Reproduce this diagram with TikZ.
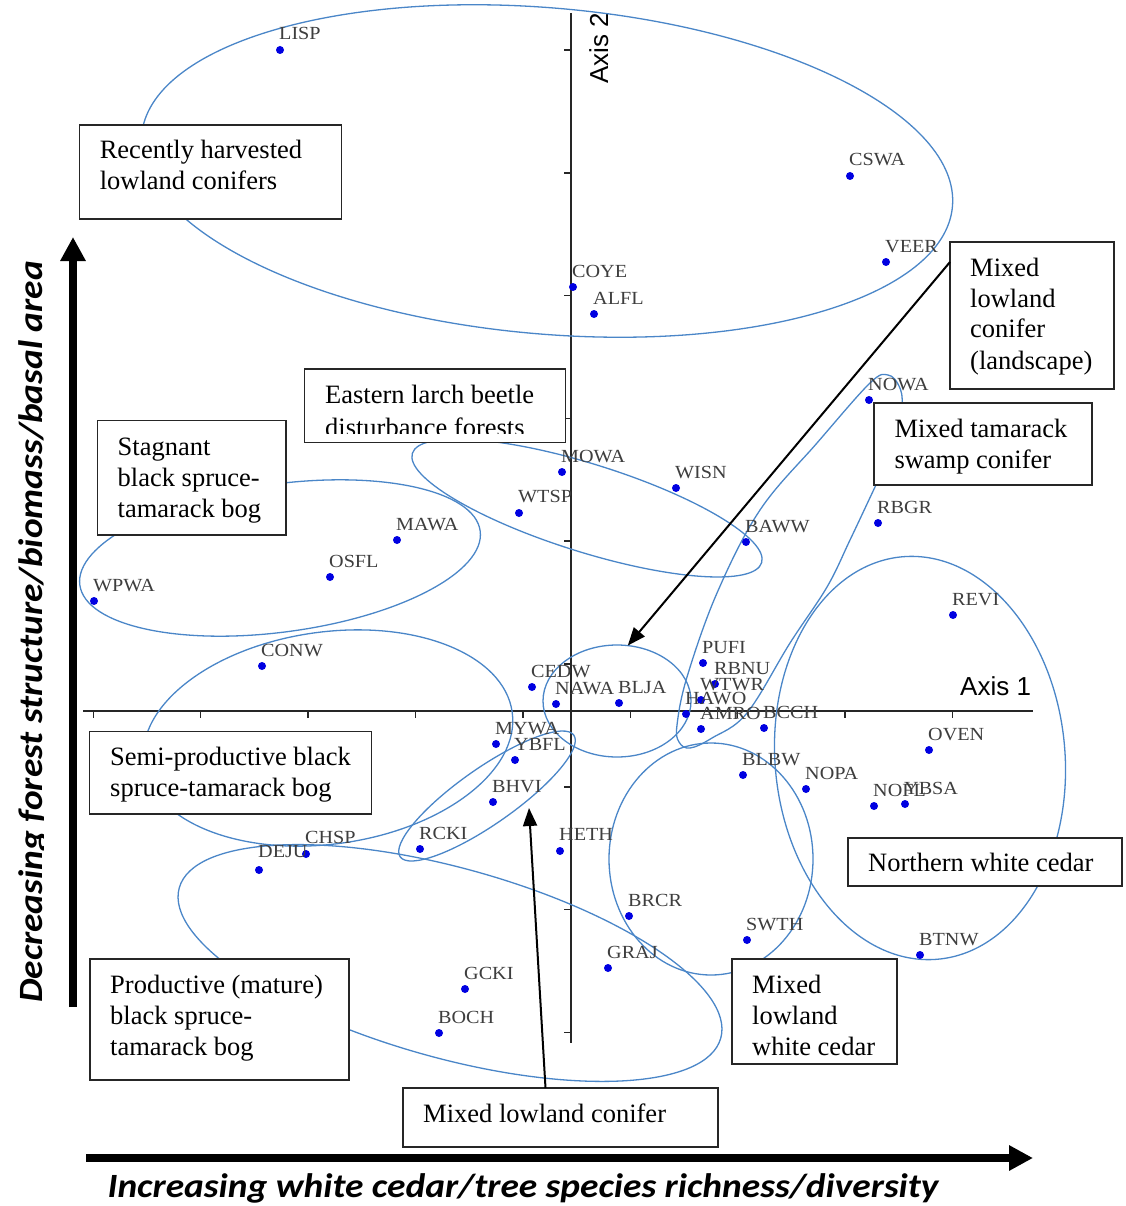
\documentclass[tikz,border=0pt]{standalone}
\usepackage{fontspec}
\setmainfont{Liberation Serif}
\newfontfamily\labfont{Liberation Serif}
\newfontfamily\axfont{Carlito}
\newfontfamily\arialf{Liberation Sans}
\usetikzlibrary{arrows.meta,shapes.geometric}
\definecolor{ellc}{RGB}{74,134,200}
\definecolor{dotc}{RGB}{0,0,225}
\definecolor{labc}{RGB}{62,62,62}
\begin{document}
\begin{tikzpicture}[x=1pt,y=-1pt,
  ell/.style={draw=ellc, line width=1.3pt, ellipse, inner sep=0pt, outer sep=0pt},
  ellp/.style={draw=ellc, line width=1.3pt},
  boxn/.style={draw=black!85, line width=1.2pt, fill=white, inner sep=0pt, outer sep=0pt, anchor=north west},
  btext/.style={font=\fontsize{26.5}{31}\selectfont, inner sep=0pt, anchor=base west},
  lab/.style={font=\labfont\fontsize{18.5}{20}\selectfont, text=labc, inner sep=0pt, anchor=base west},
  axisl/.style={line width=1.8pt, draw=black!85},
  pointer/.style={line width=2pt, -{Triangle[length=18pt,width=14pt]}},
  bigarrow/.style={line width=7.5pt, -{Triangle[length=24pt,width=24pt]}},
  axtext/.style={font=\axfont\bfseries\itshape\fontsize{34}{40}\selectfont, inner sep=0pt},
  axname/.style={font=\arialf\fontsize{26}{30}\selectfont, inner sep=0pt}
]
\useasboundingbox (0,0) rectangle (1125,1206);
\fill[white] (0,0) rectangle (1125,1206);

% axes
\draw[axisl] (83,711) -- (1033,711);
\draw[axisl] (571,13) -- (571,1043);
\foreach \k in {0,...,8} {\draw[axisl, line width=1.5pt] ({93.3+107.4*\k},711) -- ({93.3+107.4*\k},718);}
\foreach \k in {0,...,8} {\draw[axisl, line width=1.5pt] (571,{50+122.8*\k}) -- (564,{50+122.8*\k});}
\node[axname, rotate=90, anchor=base] (ax2) at (608,48) {Axis 2};
\node[axname, anchor=base west] (ax1) at (960,695) {Axis 1};

% ellipses
\node[ell, minimum width=814pt, minimum height=326pt, rotate=-5] (e1) at (547,171) {};
\node[ell, minimum width=404pt, minimum height=148pt, rotate=7.7] (e2) at (280,558) {};
\node[ell, minimum width=366pt, minimum height=88pt, rotate=-17.4] (e3) at (587,508) {};
\node[ell, minimum width=372pt, minimum height=212pt, rotate=8] (e4) at (328,738) {};
\node[ell, minimum width=562pt, minimum height=190pt, rotate=-15.5] (e5) at (450,963) {};
\node[ell, minimum width=212pt, minimum height=56pt, rotate=35] (e6) at (487,796) {};
\node[ell, minimum width=148pt, minimum height=112pt] (e7) at (617,701) {};
\node[ell, minimum width=290pt, minimum height=404pt, rotate=5] (e9) at (920,758) {};
\node[ell, minimum width=204pt, minimum height=232pt] (e10) at (711,859) {};
\draw[ellp] plot[smooth cycle, tension=0.6] coordinates {(870,383) (888,375) (899,386) (902,405) (895,445) (875,487) (850,540) (827,587) (790,643) (747,713) (712,738) (690,748) (679,742) (677,725) (687,677) (717,593) (760,510) (817,443)};

% points
\foreach \n/\x/\y/\d in {LISP/280/50/10, CSWA/850/176/10, VEER/886/262/10, COYE/573/287/10, ALFL/594/314/10,
  NOWA/869/400/10, MOWA/562/472/10, WISN/676/488/10, WTSP/519/513/11, BAWW/746/542/10, RBGR/878/523/10,
  MAWA/397/540/10, OSFL/330/577/10, WPWA/94/601/10, REVI/953/615/10, CONW/262/666/10, PUFI/703/663/10,
  RBNU/715/684/10, WTWR/701/700/10, HAWO/686/714/10, AMRO/701/729/10, BCCH/764/728/10, CEDW/532/687/10,
  NAWA/556/704/10, BLJA/619/703/10, MYWA/496/744/10, YBFL/515/760/10, BHVI/493/802/10, RCKI/420/849/10,
  HETH/560/851/11, CHSP/306/854/11, DEJU/259/870/13, BLBW/743/775/10, NOPA/806/789/10, OVEN/929/750/10,
  NOFL/874/806/10, YBSA/905/804/10, BRCR/629/916/10, SWTH/747/940/10, GRAJ/608/968/10, BTNW/920/955/10,
  GCKI/465/989/10, BOCH/439/1033/10} {
  \fill[dotc] (\x,\y) circle[radius=4pt];
  \node[lab] (L\n) at ({\x-1},{\y-\d}) {\scalebox{1.09}[1]{\n}};
}

% boxes
\node[boxn, minimum width=261.8pt, minimum height=94pt] (rh) at (79.6,125) {};
\node[btext] (rht) at (99.6,159) {\vtop{\hbox{Recently harvested}\hbox{lowland conifers}}};
\node[boxn, minimum width=261.4pt, minimum height=73.7pt] (elb) at (304.3,369) {};
\begin{scope}
\clip (300,365) rectangle (570,433);
\node[btext] (elbt) at (325,403) {\vtop{\baselineskip=33pt\hbox{Eastern larch beetle}\hbox{disturbance forests}}};
\end{scope}
\node[boxn, minimum width=188.7pt, minimum height=114.3pt] (stg) at (97.3,420.7) {};
\node[btext] (stgt) at (117.5,455) {\vtop{\hbox{Stagnant}\hbox{black spruce-}\hbox{tamarack bog}}};
\node[boxn, minimum width=164pt, minimum height=147pt] (mlc) at (950,242) {};
\node[btext] (mlct) at (970,276) {\vtop{\hbox{Mixed}\hbox{lowland}\hbox{conifer}\hbox{(landscape)}}};
\node[boxn, minimum width=218pt, minimum height=82pt] (mts) at (874,403) {};
\node[btext] (mtst) at (894.3,437.3) {\vtop{\hbox{Mixed tamarack}\hbox{swamp conifer}}};
\node[boxn, minimum width=282.4pt, minimum height=82.3pt] (semi) at (89.3,731.7) {};
\node[btext] (semit) at (110,765.5) {\vtop{\hbox{Semi-productive black}\hbox{spruce-tamarack bog}}};
\node[boxn, minimum width=274pt, minimum height=48pt] (nwc) at (848,838) {};
\node[btext] (nwct) at (868,871) {Northern white cedar};
\node[boxn, minimum width=259pt, minimum height=121pt] (prod) at (90,959) {};
\node[btext] (prodt) at (110,993) {\vtop{\hbox{Productive (mature)}\hbox{black spruce-}\hbox{tamarack bog}}};
\node[boxn, minimum width=165pt, minimum height=105pt] (mlw) at (732,959) {};
\node[btext] (mlwt) at (752,993) {\vtop{\hbox{Mixed}\hbox{lowland}\hbox{white cedar}}};
\node[boxn, minimum width=315pt, minimum height=59pt] (mlcb) at (403,1088) {};
\node[btext] (mlcbt) at (423,1122) {Mixed lowland conifer};

% pointers
\coordinate (a2e) at (529,808);
\draw[pointer] ([yshift=-20pt]mlc.north west) -- (e7.79);
\draw[pointer] ([xshift=-15pt]mlcb.north) -- (a2e);

% big arrows
\coordinate (ya0) at (73,1007);
\coordinate (ya1) at (73,237);
\coordinate (xa0) at (86,1158);
\coordinate (xa1) at (1033,1158);
\draw[bigarrow] (ya0) -- (ya1);
\draw[bigarrow] (xa0) -- (xa1);
\node[axtext, anchor=base] (xlab) at (523,1197) {\scalebox{1.1}[1]{Increasing white cedar/tree species richness/diversity}};
\begin{scope}
\clip (0,200) rectangle (43.5,1050);
\node[axtext, rotate=90, anchor=base] (ylab) at (42,632) {\scalebox{1.1}[1]{Decreasing forest structure/biomass/basal area}};
\end{scope}
\end{tikzpicture}
\end{document}
